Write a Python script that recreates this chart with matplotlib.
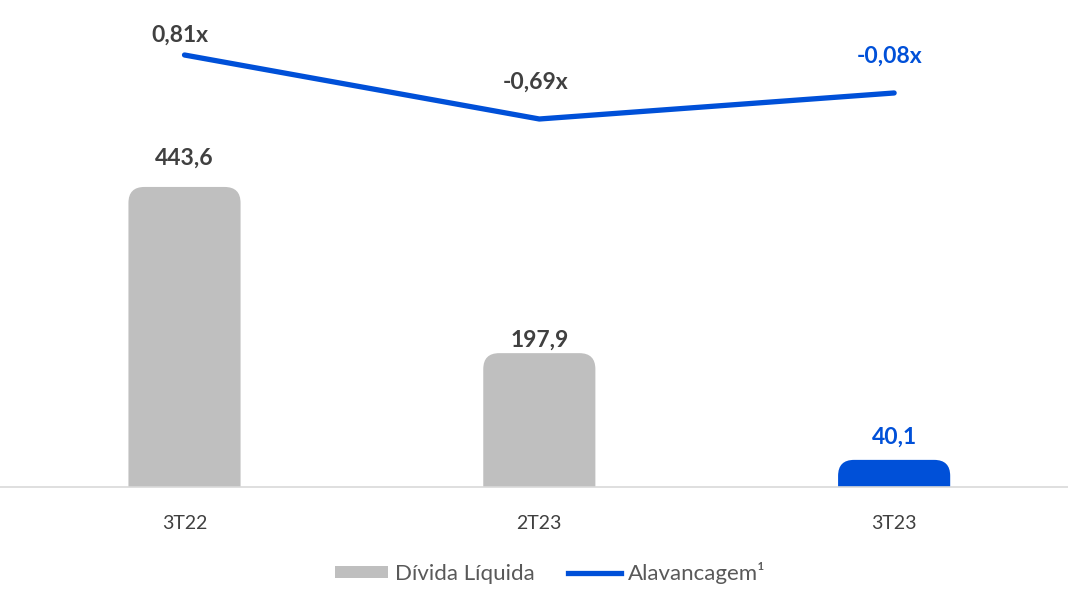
import matplotlib
matplotlib.use('Agg')
import matplotlib.pyplot as plt
from matplotlib.patches import FancyBboxPatch, Patch
from matplotlib.lines import Line2D

## Data
categories = ['3T22', '2T23', '3T23']
divida = [443.6, 197.9, 40.1]
alavancagem = [0.81, -0.69, -0.08]
divida_labels = ['443,6', '197,9', '40,1']
alav_labels = ['0,81x', '-0,69x', '-0,08x']

GRAY = '#BFBFBF'
BLUE = '#0050D8'
DARK = '#404040'
bar_colors = [GRAY, GRAY, BLUE]
label_colors = [DARK, DARK, BLUE]

plt.rcParams['font.family'] = ['Lato', 'DejaVu Sans']

fig = plt.figure(figsize=(10.68, 5.89), dpi=100)
ax = fig.add_axes([0, 102 / 589, 1, 487 / 589])
ax.set_xlim(-0.52, 2.49)
ax.set_ylim(0, 720)
ax2 = ax.twinx()
ax2.set_ylim(-9.315, 2.099)

for a in (ax, ax2):
    for s in a.spines.values():
        s.set_visible(False)
    a.set_yticks([])
ax.spines['bottom'].set_visible(True)
ax.spines['bottom'].set_color('#D9D9D9')
ax.spines['bottom'].set_linewidth(1.2)
ax.tick_params(axis='x', length=0, pad=20, labelsize=14, labelcolor=DARK)
ax.set_xticks(range(len(categories)))
ax.set_xticklabels(categories)

## rounded-top bars (bottom corners pushed below the axis and clipped)
fig.canvas.draw()
p0 = ax.transData.transform((0, 0))
p1 = ax.transData.transform((1, 1))
aspect = (p1[0] - p0[0]) / (p1[1] - p0[1])
width = 0.316
r = 0.045
for i, v in enumerate(divida):
    box = FancyBboxPatch((i - width / 2, -40), width, v + 40,
                         boxstyle='round,pad=0,rounding_size=%f' % r,
                         mutation_aspect=aspect, facecolor=bar_colors[i],
                         edgecolor='none', clip_on=True, zorder=2)
    ax.add_patch(box)

bar_offsets = [29, 13, 23]
for i, v in enumerate(divida):
    ax.annotate(divida_labels[i], (i, v), xytext=(0, bar_offsets[i] * 0.72),
                textcoords='offset points', ha='center', va='center',
                fontsize=16.5, fontweight='bold', color=label_colors[i])

ax2.plot(range(len(categories)), alavancagem, color=BLUE, lw=3.8,
         solid_capstyle='round', zorder=3)
line_offsets = [20, 37, 37]
line_label_colors = [DARK, DARK, BLUE]
for i, v in enumerate(alavancagem):
    ax2.annotate(alav_labels[i], (i, v), xytext=(-3, line_offsets[i] * 0.72),
                 textcoords='offset points', ha='center', va='center',
                 fontsize=16.5, fontweight='bold', color=line_label_colors[i])

handles = [Patch(facecolor=GRAY, edgecolor='none', label='Dívida Líquida'),
           Line2D([], [], color=BLUE, lw=3.8, label='Alavancagem¹')]
fig.legend(handles=handles, loc='lower center', bbox_to_anchor=(0.515, -0.025),
           ncol=2, frameon=False, fontsize=16, labelcolor='#595959',
           handlelength=2.4, handleheight=0.5, handletextpad=0.3,
           columnspacing=1.5)

fig.savefig('out.png', dpi=100)
